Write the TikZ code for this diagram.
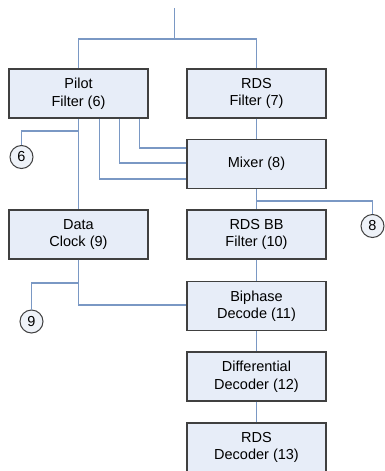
\documentclass[tikz,border=0pt]{standalone}
\usepackage{fontspec}
\setmainfont{Liberation Sans}
\definecolor{boxfill}{RGB}{231,237,248}
\definecolor{boxline}{RGB}{64,64,64}
\definecolor{wire}{RGB}{122,152,196}
\definecolor{circfill}{RGB}{238,242,248}
\tikzset{
  blockbox/.style={draw=boxline, fill=boxfill, line width=1.3pt, minimum width=139pt, minimum height=49pt, inner sep=0pt, align=center, font=\fontsize{14.5}{17.5}\selectfont},
  refcirc/.style={circle, draw=boxline, fill=circfill, line width=1pt, minimum size=23pt, inner sep=0pt, font=\fontsize{14.5}{17.5}\selectfont},
  wireline/.style={draw=wire, line width=1.3pt}
}
\begin{document}
\begin{tikzpicture}[x=1pt,y=-1pt]
\useasboundingbox (0,0) rectangle (385,471);
\fill[white] (0,0) rectangle (385,471);
\coordinate (in) at (174.5,8);
\coordinate (split) at (174.5,39);
\coordinate (j6) at (78.5,131);
\coordinate (j8) at (256.5,201);
\coordinate (j9) at (78.5,283);

\node[blockbox] (pilot) at (78.5,93.5) {Pilot\\Filter (6)};
\node[blockbox] (rds) at (256.5,93.5) {RDS\\Filter (7)};
\node[blockbox] (mixer) at (256.5,164) {Mixer (8)};
\node[blockbox] (clock) at (78.5,234.5) {Data\\Clock (9)};
\node[blockbox] (bb) at (256.5,234.5) {RDS BB\\Filter (10)};
\node[blockbox] (biphase) at (256.5,306) {Biphase\\Decode (11)};
\node[blockbox] (diff) at (256.5,376.5) {Differential\\Decoder (12)};
\node[blockbox] (dec) at (256.5,447.5) {RDS\\Decoder (13)};

\node[refcirc] (c6) at (21.5,157) {6};
\node[refcirc] (c8) at (372.5,226) {8};
\node[refcirc] (c9) at (31.5,321.5) {9};

\begin{scope}[wireline]
\draw (in) -- (split);
\draw (pilot.north) |- (split) -| (rds.north);
\draw (rds.south) -- (mixer.north);
\draw (pilot.south) -- (clock.north);
\draw ([xshift=61pt]pilot.south) |- ([yshift=16pt]mixer.west);
\draw ([xshift=41pt]pilot.south) |- ([yshift=1pt]mixer.west);
\draw ([xshift=21pt]pilot.south) |- ([yshift=-15pt]mixer.west);
\draw (j6) -| (c6.north);
\draw (mixer.south) -- (bb.north);
\draw (j8) -| (c8.north);
\draw (bb.south) -- (biphase.north);
\draw (clock.south) |- ([yshift=1pt]biphase.west);
\draw (j9) -| (c9.north);
\draw (biphase.south) -- (diff.north);
\draw (diff.south) -- (dec.north);
\end{scope}
\end{tikzpicture}
\end{document}
